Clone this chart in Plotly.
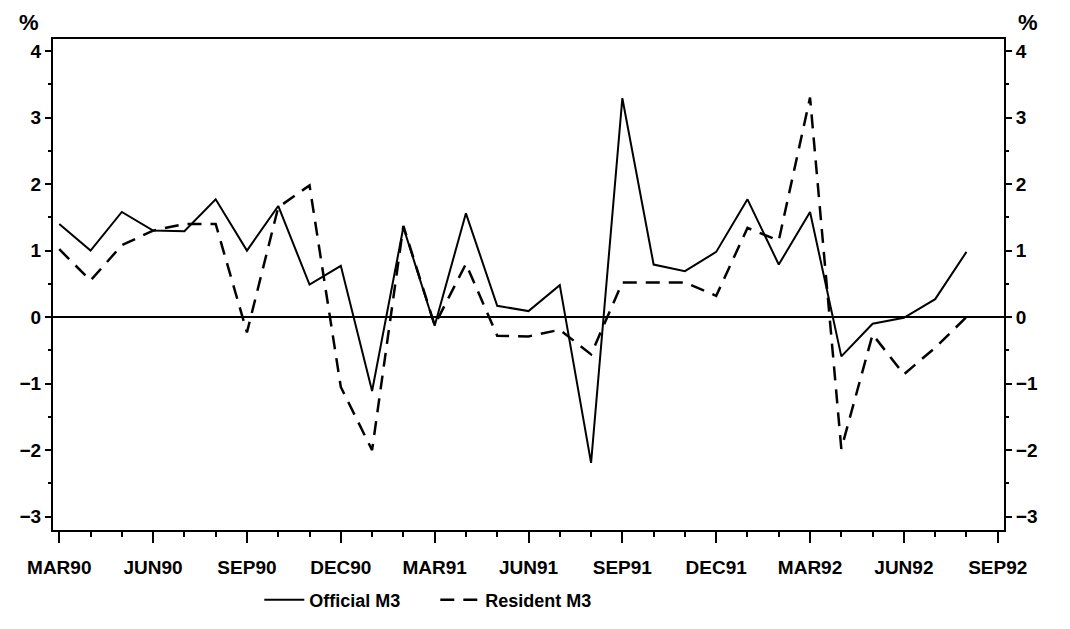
import plotly.graph_objects as go

months_idx = list(range(30))  # MAR90 .. AUG92
official_m3 = [1.40, 1.00, 1.58, 1.30, 1.29, 1.77, 1.00, 1.67, 0.49, 0.77,
               -1.11, 1.35, -0.13, 1.56, 0.17, 0.09, 0.48, -2.19, 3.29, 0.79,
               0.69, 0.98, 1.77, 0.79, 1.58, -0.59, -0.10, -0.01, 0.27, 0.98]
resident_m3 = [1.02, 0.55, 1.08, 1.30, 1.40, 1.40, -0.23, 1.65, 1.98, -1.05,
               -2.00, 1.37, -0.12, 0.80, -0.28, -0.29, -0.19, -0.56, 0.52, 0.52,
               0.52, 0.32, 1.34, 1.15, 3.30, -1.98, -0.26, -0.86, -0.46, 0.00]
tick_vals = [0, 3, 6, 9, 12, 15, 18, 21, 24, 27, 30]
tick_text = ["MAR90", "JUN90", "SEP90", "DEC90", "MAR91", "JUN91", "SEP91",
             "DEC91", "MAR92", "JUN92", "SEP92"]
y_ticks = [-3, -2, -1, 0, 1, 2, 3, 4]
y_text = ["\u22123", "\u22122", "\u22121", "0", "1", "2", "3", "4"]

FONT = "Liberation Sans"
tickfont = dict(family=FONT, size=19, color="black", weight="bold")

W, H = 1062, 621   # page body has an 8px margin

fig = go.Figure()
fig.add_trace(go.Scatter(x=months_idx, y=official_m3, mode="lines",
                         name="Official M3",
                         line=dict(color="black", width=2)))
fig.add_trace(go.Scatter(x=months_idx, y=resident_m3, mode="lines",
                         name="Resident M3",
                         line=dict(color="black", width=2.5, dash="14px,9px")))
# invisible trace for right axis
fig.add_trace(go.Scatter(x=[0], y=[0], yaxis="y2", mode="markers",
                         marker=dict(opacity=0), showlegend=False,
                         hoverinfo="skip"))

yr = [-3.2, 4.18]
common_y = dict(range=yr, tickmode="array", tickvals=y_ticks, ticktext=y_text,
                ticks="outside", ticklen=6, tickwidth=2, tickcolor="black",
                showline=True, linecolor="black", linewidth=2, automargin=False,
                showgrid=False, tickfont=tickfont,
                minor=dict(tickmode="linear", tick0=0, dtick=0.5, ticks="outside",
                           ticklen=3, tickwidth=2, tickcolor="black", showgrid=False))

fig.update_layout(
    width=W, height=H,
    margin=dict(l=45, r=66, t=31, b=99, autoexpand=False),
    paper_bgcolor="white", plot_bgcolor="white",
    showlegend=True,
    legend=dict(orientation="h", x=0.402, xanchor="center", yref="container",
                y=(H - 592) / H, yanchor="middle",
                font=dict(family=FONT, size=18, color="black", weight="bold"),
                itemwidth=40, entrywidth=121, entrywidthmode="pixels",
                tracegroupgap=0, bgcolor="rgba(0,0,0,0)"),
    xaxis=dict(range=[-0.2, 30.2], tickmode="array", tickvals=tick_vals,
               ticktext=tick_text, ticks="outside", ticklen=11, tickwidth=2,
               tickcolor="black", showline=True, linecolor="black", linewidth=2,
               mirror=True, showgrid=False, zeroline=False, tickfont=tickfont,
               ticklabelstandoff=8, automargin=False,
               minor=dict(tickmode="linear", tick0=0, dtick=1, ticks="outside",
                          ticklen=5, tickwidth=2, tickcolor="black", showgrid=False)),
    yaxis=dict(**common_y, zeroline=True, zerolinecolor="black", zerolinewidth=1.5),
    yaxis2=dict(**common_y, overlaying="y", side="right", zeroline=False),
    annotations=[
        dict(text="<b>%</b>", xref="paper", yref="paper", x=-0.025, y=1.0,
             xanchor="center", yanchor="bottom", yshift=2, showarrow=False,
             font=dict(family=FONT, size=22, color="black")),
        dict(text="<b>%</b>", xref="paper", yref="paper", x=1.025, y=1.0,
             xanchor="center", yanchor="bottom", yshift=2, showarrow=False,
             font=dict(family=FONT, size=22, color="black")),
    ],
)

fig.write_html("out.html")
